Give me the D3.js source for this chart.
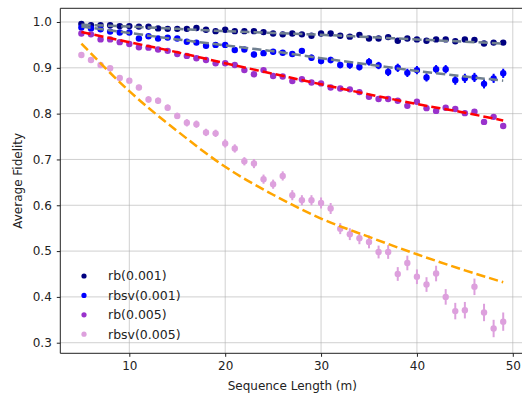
<!DOCTYPE html>
<html>
<head>
<meta charset="utf-8">
<script src="https://cdn.jsdelivr.net/npm/d3@7"></script>
<style>
  body { margin: 0; background: #fff; }
  svg { display: block; font-family: "DejaVu Sans", sans-serif; }
</style>
</head>
<body>
<div id="root"></div>
<script>
// sequence lengths 5..49
const lengths = [5,6,7,8,9,10,11,12,13,14,15,16,17,18,19,20,21,22,23,24,25,26,27,
  28,29,30,31,32,33,34,35,36,37,38,39,40,41,42,43,44,45,46,47,48,49];

const rb001 = [0.996,0.993,0.993,0.993,0.991,0.991,0.990,0.990,0.986,0.985,0.985,0.985,0.987,
  0.983,0.980,0.983,0.980,0.980,0.980,0.978,0.975,0.973,0.975,0.973,0.970,0.975,0.975,0.970,
  0.968,0.972,0.964,0.964,0.967,0.959,0.964,0.962,0.959,0.962,0.962,0.958,0.962,0.961,0.953,
  0.955,0.955];
const rb001Err = [0.002,0.002,0.002,0.002,0.002,0.002,0.002,0.002,0.002,0.002,0.002,0.002,0.002,
  0.002,0.002,0.002,0.002,0.002,0.002,0.002,0.002,0.002,0.002,0.002,0.002,0.002,0.002,0.002,
  0.002,0.002,0.003,0.003,0.003,0.003,0.003,0.003,0.003,0.003,0.003,0.003,0.003,0.003,0.003,
  0.003,0.003];

const rbsv001 = [0.988,0.986,0.984,0.979,0.977,0.977,0.964,0.969,0.964,0.966,0.964,0.957,0.955,
  0.948,0.950,0.950,0.939,0.940,0.929,0.932,0.935,0.933,0.930,0.937,0.922,0.915,0.917,0.906,
  0.906,0.902,0.913,0.905,0.891,0.900,0.889,0.895,0.879,0.897,0.897,0.873,0.877,0.879,0.865,
  0.877,0.888];
const rbsv001Err = [0.002,0.002,0.003,0.003,0.003,0.003,0.003,0.003,0.004,0.004,0.004,0.004,0.005,
  0.005,0.005,0.005,0.005,0.005,0.006,0.006,0.006,0.006,0.006,0.006,0.007,0.007,0.007,0.007,
  0.008,0.008,0.008,0.008,0.009,0.009,0.009,0.009,0.009,0.009,0.009,0.010,0.010,0.010,0.010,
  0.010,0.010];

const rb005 = [0.975,0.973,0.962,0.962,0.956,0.952,0.945,0.944,0.940,0.937,0.930,0.926,0.921,
  0.917,0.910,0.910,0.906,0.895,0.886,0.895,0.882,0.881,0.871,0.875,0.868,0.866,0.857,0.855,
  0.853,0.847,0.837,0.832,0.832,0.828,0.817,0.826,0.812,0.806,0.813,0.810,0.801,0.804,0.782,
  0.793,0.773];
const rb005Err = [0.002,0.002,0.002,0.002,0.002,0.002,0.002,0.002,0.002,0.002,0.002,0.002,0.002,
  0.002,0.002,0.002,0.002,0.002,0.002,0.002,0.003,0.003,0.003,0.003,0.003,0.003,0.003,0.003,
  0.003,0.003,0.003,0.003,0.003,0.003,0.003,0.003,0.003,0.003,0.003,0.003,0.004,0.004,0.004,
  0.004,0.004];

const rbsv005 = [0.928,0.917,0.906,0.899,0.878,0.872,0.857,0.831,0.828,0.813,0.795,0.780,0.777,
  0.759,0.757,0.735,0.724,0.696,0.691,0.657,0.646,0.664,0.622,0.611,0.611,0.605,0.593,0.549,
  0.537,0.528,0.520,0.498,0.498,0.450,0.474,0.444,0.427,0.451,0.400,0.369,0.371,0.422,0.366,
  0.331,0.346];
const rbsv005Err = [0.004,0.005,0.005,0.005,0.006,0.006,0.006,0.007,0.007,0.007,0.007,0.008,0.008,
  0.008,0.008,0.009,0.009,0.009,0.010,0.010,0.010,0.010,0.011,0.011,0.011,0.012,0.012,0.012,
  0.013,0.013,0.014,0.014,0.015,0.015,0.016,0.016,0.016,0.017,0.017,0.018,0.018,0.018,0.019,
  0.019,0.020];

// fitted decay curves
const fitX = [5, 10, 15, 20, 25, 30, 35, 40, 45, 49];
const fitRb001 = [0.994, 0.990, 0.985, 0.980, 0.976, 0.972, 0.967, 0.962, 0.957, 0.953];
const fitRbsv001 = [0.990, 0.976, 0.962, 0.949, 0.936, 0.921, 0.907, 0.893, 0.881, 0.872];
const fitRb005 = [0.978, 0.956, 0.934, 0.910, 0.887, 0.864, 0.842, 0.821, 0.802, 0.785];
const fitRbsv005 = [0.953, 0.849, 0.762, 0.684, 0.623, 0.571, 0.531, 0.493, 0.458, 0.432];

const series = [
  {name: "rb(0.001)", values: rb001, err: rb001Err, color: "#000080"},
  {name: "rbsv(0.001)", values: rbsv001, err: rbsv001Err, color: "#0000ff"},
  {name: "rb(0.005)", values: rb005, err: rb005Err, color: "#9932cc"},
  {name: "rbsv(0.005)", values: rbsv005, err: rbsv005Err, color: "#dda0dd"}
];
const fits = [
  {values: fitRb001, color: "#708090"},
  {values: fitRbsv001, color: "#708090"},
  {values: fitRb005, color: "#ff0000"},
  {values: fitRbsv005, color: "#ffa500"}
];

const xTicks = [10, 20, 30, 40, 50];
const yTicks = [0.3, 0.4, 0.5, 0.6, 0.7, 0.8, 0.9, 1.0];

const W = 522, H = 394;
const mLeft = 60.3, mTop = 8.3, mBottom = 353.3, mRight = 524.3;

const svg = d3.select("#root").append("svg")
  .attr("width", W)
  .attr("height", H);

const x = d3.scaleLinear().domain([2.8, 51.2]).range([mLeft, mRight]);
const y = d3.scaleLinear().domain([0.2769, 1.0299]).range([mBottom, mTop]);

// grid
const grid = svg.append("g").attr("stroke", "#b0b0b0").attr("stroke-opacity", 0.6).attr("stroke-width", 1);
grid.selectAll("line.gx").data(xTicks).enter().append("line")
  .attr("x1", d => x(d)).attr("x2", d => x(d))
  .attr("y1", mTop).attr("y2", mBottom);
grid.selectAll("line.gy").data(yTicks).enter().append("line")
  .attr("x1", mLeft).attr("x2", mRight)
  .attr("y1", d => y(d)).attr("y2", d => y(d));

// error bars + points
const plot = svg.append("g");
series.forEach(s => {
  const g = plot.append("g").attr("fill", s.color).attr("stroke", s.color);
  g.selectAll("line").data(lengths).enter().append("line")
    .attr("x1", d => x(d)).attr("x2", d => x(d))
    .attr("y1", (d, i) => y(s.values[i] - s.err[i]))
    .attr("y2", (d, i) => y(s.values[i] + s.err[i]))
    .attr("stroke-width", 2);
  g.selectAll("circle").data(lengths).enter().append("circle")
    .attr("cx", d => x(d))
    .attr("cy", (d, i) => y(s.values[i]))
    .attr("r", 3.2)
    .attr("stroke", "none");
});

// fit lines
const fitLine = d3.line()
  .x((d, i) => x(fitX[i]))
  .y(d => y(d))
  .curve(d3.curveMonotoneX);
fits.forEach(f => {
  plot.append("path")
    .datum(f.values)
    .attr("d", fitLine)
    .attr("fill", "none")
    .attr("stroke", f.color)
    .attr("stroke-width", 2.5)
    .attr("stroke-dasharray", "9.25,4");
});

// axes
const xAxis = svg.append("g")
  .attr("transform", `translate(0,${mBottom})`)
  .call(d3.axisBottom(x).tickValues(xTicks).tickSize(3.5).tickPadding(5).tickFormat(d3.format("d")));
const yAxis = svg.append("g")
  .attr("transform", `translate(${mLeft},0)`)
  .call(d3.axisLeft(y).tickValues(yTicks).tickSize(3.5).tickPadding(5).tickFormat(d3.format(".1f")));
[xAxis, yAxis].forEach(a => {
  a.select(".domain").attr("stroke", "#222").attr("stroke-width", 1);
  a.selectAll(".tick line").attr("stroke", "#222");
  a.selectAll("text").attr("font-size", 12).attr("fill", "#222")
    .attr("font-family", "DejaVu Sans");
});
xAxis.select(".domain").attr("d", `M${mLeft},0H${mRight}`);
yAxis.select(".domain").attr("d", `M0,${mBottom}V${mTop}`);

// top spine
svg.append("line")
  .attr("x1", mLeft).attr("x2", mRight)
  .attr("y1", mTop).attr("y2", mTop)
  .attr("stroke", "#222");

// axis labels
svg.append("text")
  .attr("x", (mLeft + mRight) / 2)
  .attr("y", 390)
  .attr("text-anchor", "middle")
  .attr("font-size", 12)
  .attr("fill", "#222")
  .text("Sequence Length (m)");

svg.append("text")
  .attr("transform", `translate(22,${(mTop + mBottom) / 2}) rotate(-90)`)
  .attr("text-anchor", "middle")
  .attr("font-size", 12)
  .attr("fill", "#222")
  .text("Average Fidelity");

// legend
const legend = svg.append("g")
  .selectAll("g")
  .data(series)
  .enter().append("g")
  .attr("transform", (d, i) => `translate(84,${276 + i * 19.4})`);
legend.append("circle")
  .attr("r", 2.6)
  .attr("fill", d => d.color);
legend.append("text")
  .attr("x", 24)
  .attr("dy", "0.35em")
  .attr("font-size", 12.5)
  .attr("fill", "#222")
  .text(d => d.name);
</script>
</body>
</html>
